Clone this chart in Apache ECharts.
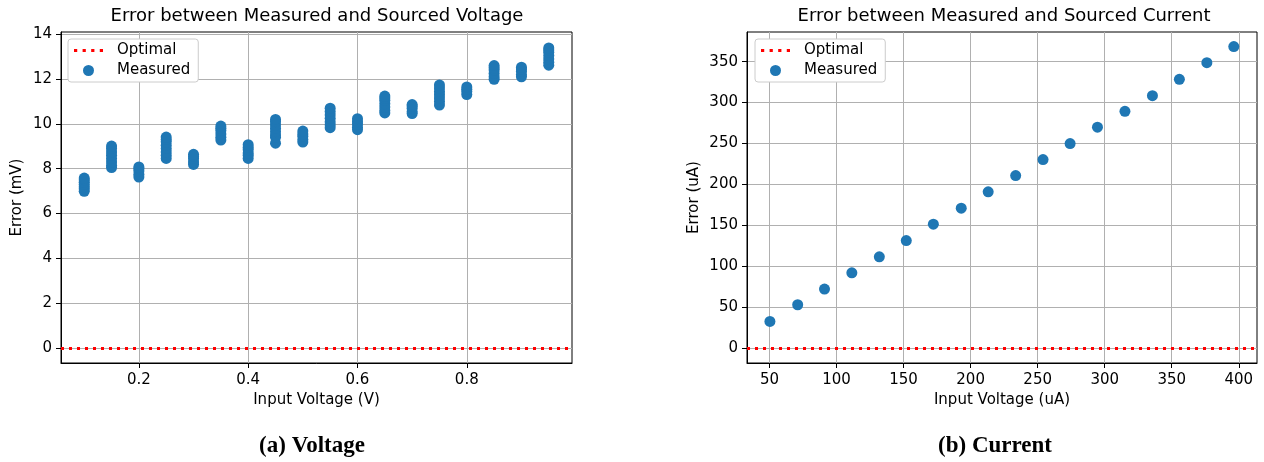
<!DOCTYPE html>
<html>
<head>
<meta charset="utf-8">
<script src="https://cdn.jsdelivr.net/npm/echarts@6/dist/echarts.min.js"></script>
<style>
  html, body { margin: 0; padding: 0; background: #fff; }
  #chart { width: 1264px; height: 462px; }
</style>
</head>
<body>
<div id="chart"></div>
<script>
// (a) voltage: readings per source voltage step
const voltageInputs = [0.10, 0.15, 0.20, 0.25, 0.30, 0.35, 0.40, 0.45, 0.50,
                       0.55, 0.60, 0.65, 0.70, 0.75, 0.80, 0.85, 0.90, 0.95];
const voltageErrors = [
  [6.99, 7.10, 7.20, 7.30, 7.40, 7.50, 7.58],
  [8.05, 8.15, 8.30, 8.45, 8.60, 8.75, 8.90, 9.01],
  [7.63, 7.75, 7.90, 8.00, 8.08],
  [8.46, 8.60, 8.75, 8.90, 9.05, 9.20, 9.30, 9.41],
  [8.19, 8.30, 8.45, 8.55, 8.64],
  [9.28, 9.40, 9.55, 9.70, 9.80, 9.90],
  [8.46, 8.60, 8.70, 8.85, 8.95, 9.07],
  [9.14, 9.40, 9.50, 9.65, 9.80, 9.95, 10.10, 10.20],
  [9.19, 9.30, 9.45, 9.55, 9.68],
  [9.83, 9.95, 10.10, 10.25, 10.40, 10.55, 10.70],
  [9.74, 9.85, 10.00, 10.10, 10.23],
  [10.49, 10.60, 10.75, 10.90, 11.05, 11.15, 11.24],
  [10.46, 10.55, 10.70, 10.80, 10.86],
  [10.84, 11.00, 11.15, 11.30, 11.45, 11.60, 11.74],
  [11.31, 11.45, 11.55, 11.65],
  [11.99, 12.10, 12.25, 12.40, 12.50, 12.60],
  [12.10, 12.20, 12.35, 12.45, 12.53],
  [12.62, 12.75, 12.90, 13.05, 13.20, 13.30, 13.39]
];

// (b) current
const currentInputs = [50.3, 71.0, 91.0, 111.4, 131.9, 152.0, 172.2, 193.0, 213.1,
                       233.6, 254.0, 274.2, 294.6, 315.1, 335.6, 355.7, 376.2, 396.3];
const currentErrors = [32.5, 52.9, 72.1, 92.0, 111.5, 131.4, 151.4, 170.9, 190.9,
                       210.8, 230.3, 249.9, 269.9, 289.4, 308.5, 328.5, 348.8, 368.5];

const optimalError = 0;

const voltageTicksX = [0.2, 0.4, 0.6, 0.8];
const voltageTicksY = [0, 2, 4, 6, 8, 10, 12, 14];
const currentTicksX = [50, 100, 150, 200, 250, 300, 350, 400];
const currentTicksY = [0, 50, 100, 150, 200, 250, 300, 350];

const FONT = '"DejaVu Sans", sans-serif';
const BLUE = '#1f77b4';
const RED = '#ff0000';
const dotted = { color: RED, width: 3, type: [3, 5], cap: 'butt', opacity: 1 };
// four little squares, like matplotlib's ':' legend handle
const dotIcon = 'path://M0,0h3v3h-3z M8,0h3v3h-3z M16,0h3v3h-3z M24,0h3v3h-3z';

const chart = echarts.init(document.getElementById('chart'), null, { renderer: 'canvas' });

function axis(gridIndex, min, max, splitNumber, ticks, name, nameGap, isY) {
  return {
    type: 'value',
    gridIndex: gridIndex,
    min: min,
    max: max,
    splitNumber: splitNumber,
    name: name,
    nameLocation: 'middle',
    nameGap: nameGap,
    nameRotate: isY ? 90 : 0,
    nameTextStyle: { fontFamily: FONT, fontSize: 15, color: '#000' },
    axisLine: { show: true, onZero: false, lineStyle: { color: '#000', width: 1 } },
    axisTick: { show: true, length: 5, customValues: ticks, lineStyle: { color: '#000', width: 1 } },
    axisLabel: {
      customValues: ticks,
      margin: isY ? 9 : 10,
      fontFamily: FONT, fontSize: 15, color: '#000'
    },
    splitLine: { show: true, lineStyle: { color: '#b0b0b0', width: 1 } }
  };
}

function legend(left) {
  return {
    left: left, top: 39, orient: 'vertical',
    data: [
      { name: 'Optimal', icon: dotIcon, itemStyle: { color: RED, borderWidth: 0 } },
      { name: 'Measured' }
    ],
    itemWidth: 29, itemHeight: 11, itemGap: 5,
    padding: [4, 8, 4, 6],
    backgroundColor: '#fff',
    borderColor: '#cccccc', borderWidth: 1, borderRadius: 3,
    textStyle: { fontFamily: FONT, fontSize: 15, color: '#000', padding: [0, 0, 0, 9] },
    selectedMode: false
  };
}

function text(x, y, str, font) {
  return {
    type: 'text', x: x, y: y, silent: true,
    style: { text: str, font: font, fill: '#000', align: 'center', verticalAlign: 'middle',
             textAlign: 'center', textVerticalAlign: 'middle' }
  };
}

function optimalSeries(idx) {
  return {
    name: 'Optimal', type: 'line', xAxisIndex: idx, yAxisIndex: idx,
    data: [], symbol: 'none', color: RED,
    itemStyle: { color: RED }, lineStyle: dotted,
    markLine: {
      silent: true, symbol: ['none', 'none'], label: { show: false },
      lineStyle: dotted, emphasis: { disabled: true }, z: 5,
      data: [{ yAxis: optimalError }]
    }
  };
}

chart.setOption({
  animation: false,
  backgroundColor: '#fff',
  textStyle: { fontFamily: FONT },
  grid: [
    { left: 61, right: 692, top: 32, bottom: 99, show: true, borderColor: '#000', borderWidth: 1, containLabel: false },
    { left: 747, right: 7, top: 32, bottom: 99, show: true, borderColor: '#000', borderWidth: 1, containLabel: false }
  ],
  xAxis: [
    axis(0, 0.0575, 0.9925, 5, voltageTicksX, 'Input Voltage (V)', 30, false),
    axis(1, 33.2, 413.6, 8, currentTicksX, 'Input Voltage (uA)', 30, false)
  ],
  yAxis: [
    axis(0, -0.67, 14.1, 7, voltageTicksY, 'Error (mV)', 36, true),
    axis(1, -18.3, 386.3, 8, currentTicksY, 'Error (uA)', 45, true)
  ],
  legend: [legend(68), legend(755)],
  graphic: [
    text(317, 16, 'Error between Measured and Sourced Voltage', '18px ' + FONT),
    text(1004, 16, 'Error between Measured and Sourced Current', '18px ' + FONT),
    text(312, 446, '(a) Voltage', 'bold 23px "Liberation Serif", serif'),
    text(995, 446, '(b) Current', 'bold 23px "Liberation Serif", serif')
  ],
  series: [
    optimalSeries(0),
    {
      name: 'Measured', type: 'scatter', xAxisIndex: 0, yAxisIndex: 0,
      symbol: 'circle', symbolSize: 11,
      itemStyle: { color: BLUE, opacity: 1 },
      data: voltageInputs.flatMap((x, i) => voltageErrors[i].map(y => [x, y]))
    },
    optimalSeries(1),
    {
      name: 'Measured', type: 'scatter', xAxisIndex: 1, yAxisIndex: 1,
      symbol: 'circle', symbolSize: 11,
      itemStyle: { color: BLUE, opacity: 1 },
      data: currentInputs.map((x, i) => [x, currentErrors[i]])
    }
  ]
});

window.addEventListener('resize', () => chart.resize());
</script>
</body>
</html>
